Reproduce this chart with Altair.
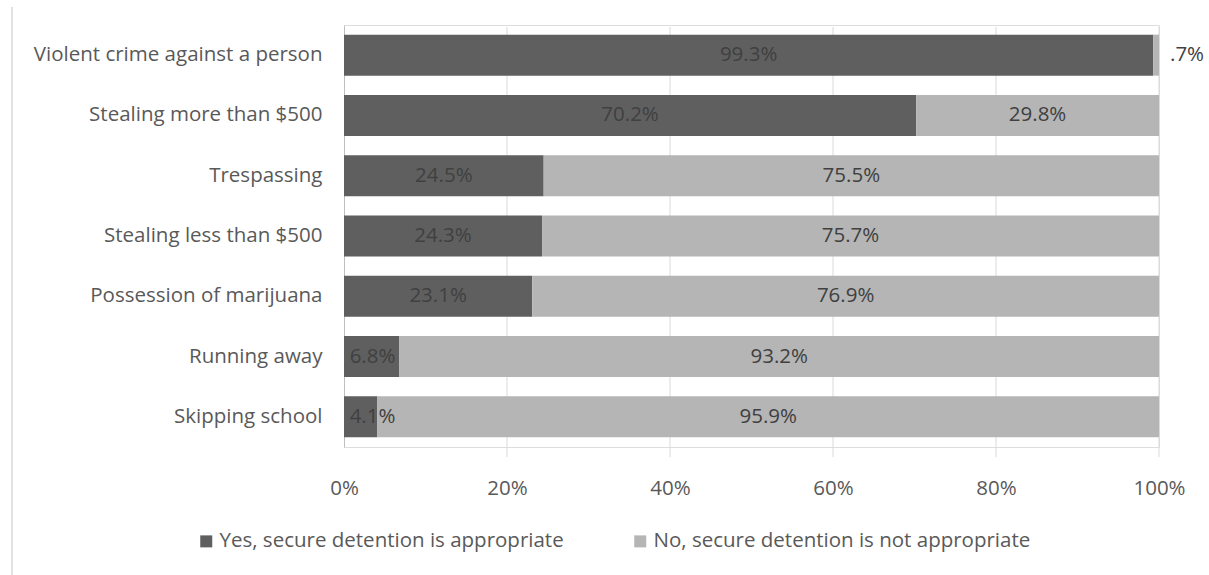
import altair as alt
import pandas as pd

# Survey responses by offense type (percent of respondents)
offenses = [
    "Violent crime against a person",
    "Stealing more than $500",
    "Trespassing",
    "Stealing less than $500",
    "Possession of marijuana",
    "Running away",
    "Skipping school",
]
yes_pct = [99.3, 70.2, 24.5, 24.3, 23.1, 6.8, 4.1]
no_pct = [0.7, 29.8, 75.5, 75.7, 76.9, 93.2, 95.9]

series = ["Yes, secure detention is appropriate", "No, secure detention is not appropriate"]
colors = ["#5f5f5f", "#b5b5b5"]
gridlines = [20, 40, 60, 80, 100]

FONT = "Open Sans"
FS = 20.5
TEXT = "#595959"


def pct_label(v):
    s = f"{v:.1f}%"
    return s[1:] if s.startswith("0") else s


rows = []
for off, y, n in zip(offenses, yes_pct, no_pct):
    rows.append({"offense": off, "answer": series[0], "order": 0, "pct": y, "label": pct_label(y)})
    rows.append({"offense": off, "answer": series[1], "order": 1, "pct": n, "label": pct_label(n)})
df = pd.DataFrame(rows)

y_enc = alt.Y(
    "offense:N",
    sort=offenses,
    title=None,
    scale=alt.Scale(paddingInner=0.32, paddingOuter=0.16),
    axis=alt.Axis(
        labelFont=FONT, labelFontSize=FS, labelColor=TEXT, labelPadding=22, labelLimit=0,
        ticks=False, domainColor="#bfbfbf", domainWidth=1,
    ),
)
x_scale = alt.Scale(domain=[0, 100], nice=False)

# stack segments; keep centred labels from running past the left edge of the plot
base = alt.Chart(df).transform_stack(
    stack="pct", groupby=["offense"], as_=["x0", "x1"], sort=[alt.SortField("order")]
).transform_calculate(mid="max((datum.x0 + datum.x1) / 2, 3.5)")

grid = alt.Chart(pd.DataFrame({"g": gridlines})).mark_rule(color="#d9d9d9", strokeWidth=1).encode(
    x=alt.X("g:Q", scale=x_scale),
    y=alt.value(2),
    y2=alt.value(432),
)

bars = base.mark_bar().encode(
    x=alt.X(
        "x0:Q", scale=x_scale, title=None,
        axis=alt.Axis(
            values=[0, 20, 40, 60, 80, 100], labelExpr="datum.value + '%'",
            labelFont=FONT, labelFontSize=FS, labelColor=TEXT, labelPadding=31,
            labelFlush=False, ticks=False, grid=False, domain=False,
        ),
    ),
    x2="x1:Q",
    y=y_enc,
    color=alt.Color(
        "answer:N",
        scale=alt.Scale(domain=series, range=colors),
        sort=series,
        legend=alt.Legend(
            title=None, orient="none", direction="horizontal",
            legendX=-148, legendY=506,
            symbolType="square", symbolSize=144, symbolStrokeWidth=0,
            labelFont=FONT, labelFontSize=FS, labelColor=TEXT, labelLimit=0,
            labelOffset=3, columnPadding=66,
        ),
    ),
)

inside = base.transform_filter("datum.pct >= 2").mark_text(
    font=FONT, fontSize=FS, color="#404040"
).encode(x=alt.X("mid:Q", scale=x_scale), y=alt.Y("offense:N", sort=offenses), text="label:N")

outside = base.transform_filter("datum.pct < 2").mark_text(
    font=FONT, fontSize=FS, color="#404040", align="left", dx=11
).encode(x=alt.X("x1:Q", scale=x_scale), y=alt.Y("offense:N", sort=offenses), text="label:N")

frame = alt.Chart(pd.DataFrame({"k": [0]})).mark_rule(color="#d9d9d9", strokeWidth=1.5).encode(
    x=alt.value(-332), y=alt.value(-18), y2=alt.value(560)
)

chart = alt.layer(frame, grid, bars, inside, outside).properties(
    width=815, height=422,
    autosize=alt.AutoSizeParams(type="none"),
    padding={"left": 344, "top": 25, "right": 50, "bottom": 128},
).configure_view(stroke=None).configure(background="white")

chart.save("out.html", embed_options={"renderer": "svg", "actions": False})
